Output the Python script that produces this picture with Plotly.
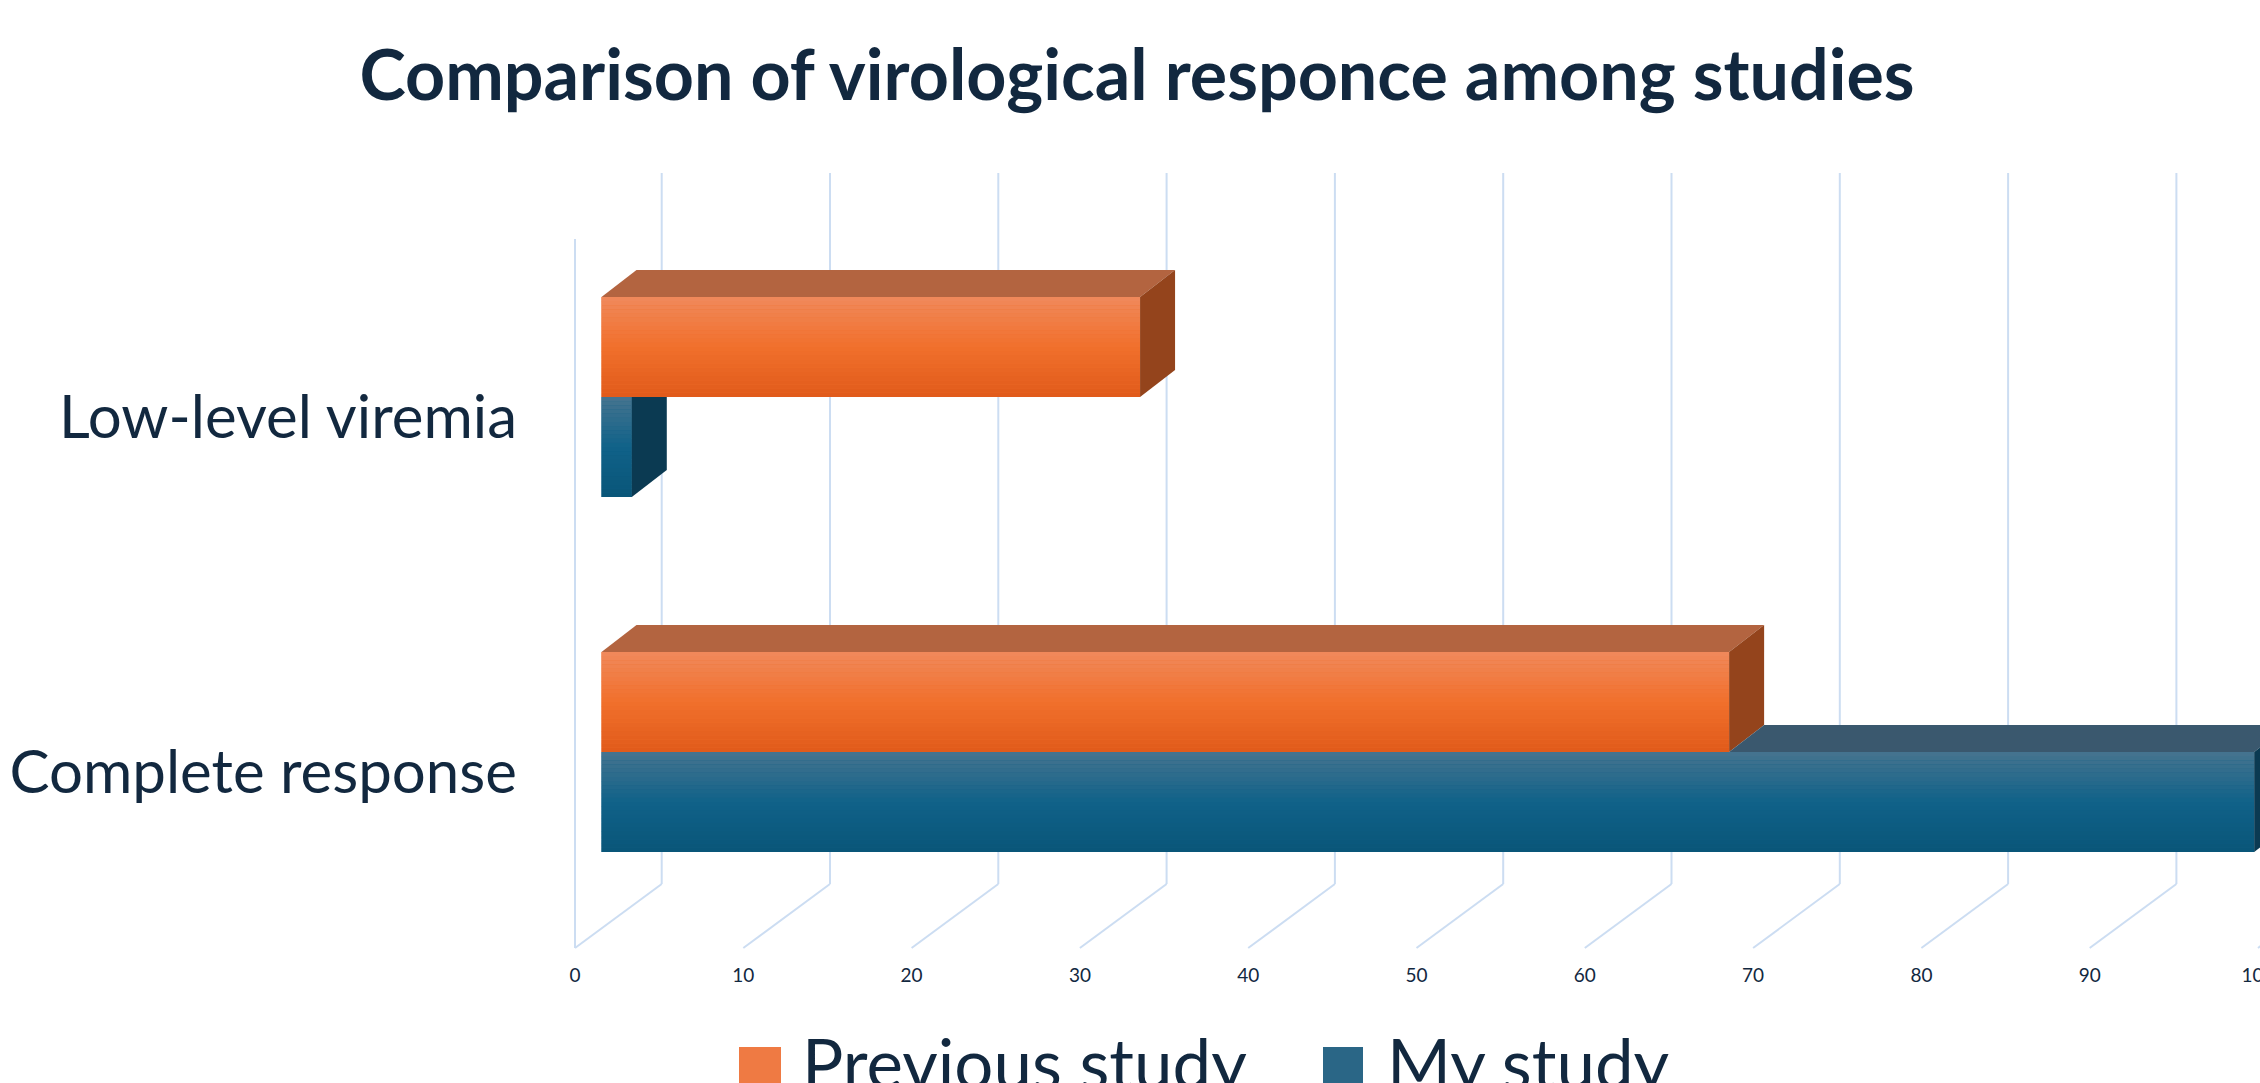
import plotly.graph_objects as go

# ---------------- data ----------------
categories = ["Complete response", "Low-level viremia"]
series_names = ["Previous study", "My study"]
previous_study = [67.0, 32.0]
my_study = [98.2, 1.8]
x_ticks = [0, 10, 20, 30, 40, 50, 60, 70, 80, 90, 100]
title_text = "Comparison of virological responce among studies"

# ---------------- styling / geometry ----------------
W, H = 2260, 1083
FONT = "Lato"
NAVY = "#12283F"
GRID = "#CCDDF2"

PX_PER_UNIT = 16.83          # px per x unit
BAR_ZERO_PX = 601.5          # x pixel of value 0 on the bar plane
FRONT_ZERO_PX = 575          # x pixel of value 0 on the front (floor edge) plane
BACK_ZERO_PX = 661.7         # x pixel of value 0 on the back wall
CAT_PX = 355                 # px between categories
CAT0_Y_PX = 752              # y pixel (from top) of the first category on the bar plane
BAR_PX = 100                 # thickness of one bar in px
DEPTH_DX_PX, DEPTH_DY_PX = 35, 27   # bar depth vector (right, up)

BACK_TOP_PX, BACK_BOT_PX = 173, 884
FRONT_TOP_PX, FRONT_BOT_PX = 239, 948

ORANGE_FRONT = "#EF6E2C"
ORANGE_GRAD = [(0.0, "#E05A1A"), (0.5, "#F1702C"), (1.0, "#F0895C")]   # bottom -> top
ORANGE_TOP = "#B36440"
ORANGE_SIDE = "#94441C"
BLUE_FRONT = "#135F85"
BLUE_GRAD = [(0.0, "#095578"), (0.5, "#106289"), (1.0, "#46748F")]
BLUE_TOP = "#3A586E"
BLUE_SIDE = "#0B3A52"
N_BANDS = 24

x_range = [-BAR_ZERO_PX / PX_PER_UNIT, (W - BAR_ZERO_PX) / PX_PER_UNIT]
x_front_range = [-FRONT_ZERO_PX / PX_PER_UNIT, (W - FRONT_ZERO_PX) / PX_PER_UNIT]
y0 = -(H - CAT0_Y_PX) / CAT_PX
y_range = [y0, y0 + H / CAT_PX]

bw = BAR_PX / CAT_PX
DX = DEPTH_DX_PX / PX_PER_UNIT
DY = DEPTH_DY_PX / CAT_PX
back_off = (BACK_ZERO_PX - BAR_ZERO_PX) / PX_PER_UNIT
front_off = (FRONT_ZERO_PX - BAR_ZERO_PX) / PX_PER_UNIT


def py(px_from_top):
    return (H - px_from_top) / H


def hex2rgb(h):
    h = h.lstrip("#")
    return tuple(int(h[i:i + 2], 16) for i in (0, 2, 4))


def grad_color(stops, t):
    for (t0, c0), (t1, c1) in zip(stops[:-1], stops[1:]):
        if t0 <= t <= t1:
            f = (t - t0) / (t1 - t0)
            a, b = hex2rgb(c0), hex2rgb(c1)
            return "rgb(%d,%d,%d)" % tuple(round(a[k] + (b[k] - a[k]) * f) for k in range(3))
    return stops[-1][1]


ypos = list(range(len(categories)))

fig = go.Figure()
fig.add_trace(go.Bar(
    name=series_names[1], y=ypos, x=my_study, orientation="h",
    marker=dict(color=BLUE_FRONT, line=dict(width=0)), showlegend=False,
    hovertemplate="%{x}<extra>" + series_names[1] + "</extra>",
))
fig.add_trace(go.Bar(
    name=series_names[0], y=ypos, x=previous_study, orientation="h",
    marker=dict(color=ORANGE_FRONT, line=dict(width=0)), showlegend=False,
    hovertemplate="%{x}<extra>" + series_names[0] + "</extra>",
))
# carrier trace for the front-plane tick axis
fig.add_trace(go.Scatter(x=[None], y=[None], xaxis="x2", yaxis="y",
                         showlegend=False, hoverinfo="skip"))

shapes = []


def poly(points, color):
    path = "M " + " L ".join(f"{x},{y}" for x, y in points) + " Z"
    return dict(type="path", path=path, xref="x", yref="y", fillcolor=color,
                line=dict(width=0), layer="above")


def shade_front(value, bottom, stops):
    """vertical gradient shading laid over a bar's front face"""
    step = bw / N_BANDS
    for k in range(N_BANDS):
        yb = bottom + k * step
        yt = yb + step * 1.02 if k < N_BANDS - 1 else yb + step
        shapes.append(dict(type="rect", xref="x", yref="y", x0=0, x1=value,
                           y0=yb, y1=yt, fillcolor=grad_color(stops, (k + 0.5) / N_BANDS),
                           line=dict(width=0), layer="above"))


for i, (vo, vb) in enumerate(zip(previous_study, my_study)):
    top_o, bot_o = i + bw, i
    top_b, bot_b = i, i - bw
    shade_front(vo, bot_o, ORANGE_GRAD)
    shade_front(vb, bot_b, BLUE_GRAD)
    # orange (upper bar): top + side
    shapes.append(poly([(0, top_o), (vo, top_o), (vo + DX, top_o + DY), (DX, top_o + DY)], ORANGE_TOP))
    shapes.append(poly([(vo, bot_o), (vo + DX, bot_o + DY), (vo + DX, top_o + DY), (vo, top_o)], ORANGE_SIDE))
    # blue (lower bar): only the parts not hidden by the orange bar
    if vb > vo:
        shapes.append(poly([(vo, top_b), (vb, top_b), (vb + DX, top_b + DY), (vo + DX, top_b + DY)], BLUE_TOP))
        shapes.append(poly([(vb, bot_b), (vb + DX, bot_b + DY), (vb + DX, top_b + DY), (vb, top_b)], BLUE_SIDE))
    else:
        shapes.append(poly([(vb, bot_b), (vb + DX, bot_b + DY), (vb + DX, top_b), (vb, top_b)], BLUE_SIDE))

# 3-D walls / floor grid
for v in x_ticks:
    shapes.append(dict(type="line", xref="x", yref="paper", layer="below",
                       x0=v + back_off, x1=v + back_off,
                       y0=py(BACK_BOT_PX), y1=py(BACK_TOP_PX),
                       line=dict(color=GRID, width=2)))
    shapes.append(dict(type="line", xref="x", yref="paper", layer="below",
                       x0=v + front_off, x1=v + back_off,
                       y0=py(FRONT_BOT_PX), y1=py(BACK_BOT_PX),
                       line=dict(color=GRID, width=2)))
shapes.append(dict(type="line", xref="x", yref="paper", layer="below",
                   x0=x_ticks[0] + front_off, x1=x_ticks[0] + front_off,
                   y0=py(FRONT_BOT_PX), y1=py(FRONT_TOP_PX),
                   line=dict(color=GRID, width=2)))

# legend (large swatches as drawn in the original)
legend_items = [
    (series_names[0], "#EF7A43", 739, 781, 800),
    (series_names[1], "#2A6686", 1323, 1363, 1385),
]
annotations = []
for name, col, sx0, sx1, tx in legend_items:
    shapes.append(dict(type="rect", xref="paper", yref="paper",
                       x0=sx0 / W, x1=sx1 / W, y0=py(1120), y1=py(1047),
                       fillcolor=col, line=dict(width=0), layer="above"))
    annotations.append(dict(text=name, xref="paper", yref="paper",
                            x=tx / W, y=py(1019), xanchor="left", yanchor="top",
                            showarrow=False,
                            font=dict(family=FONT, size=69, color=NAVY)))

fig.update_layout(
    width=W, height=H, autosize=False,
    margin=dict(l=0, r=0, t=0, b=0, pad=0, autoexpand=False),
    paper_bgcolor="white", plot_bgcolor="white",
    barmode="group", bargap=1 - 2 * bw, bargroupgap=0,
    showlegend=False,
    title=dict(text=title_text, x=1137 / W, xanchor="center", y=py(75), yanchor="middle",
               font=dict(family=FONT, size=70, color=NAVY, weight=700)),
    xaxis=dict(range=x_range, domain=[0, 1], showgrid=False, zeroline=False,
               showticklabels=False, showline=False, fixedrange=True, automargin=False),
    xaxis2=dict(range=x_front_range, overlaying="x", anchor="free", position=py(962),
                side="bottom", tickvals=x_ticks, showgrid=False, zeroline=False,
                showline=False, ticks="", ticklabeloverflow="allow", automargin=False,
                tickfont=dict(family=FONT, size=19, color=NAVY)),
    yaxis=dict(range=y_range, domain=[0, 1], anchor="free", position=FRONT_ZERO_PX / W,
               tickvals=ypos, ticktext=categories, showgrid=False, zeroline=False,
               showline=False, ticks="", ticklabelstandoff=58, ticklabelshift=20,
               automargin=False,
               tickfont=dict(family=FONT, size=60, color=NAVY)),
    shapes=shapes,
    annotations=annotations,
    font=dict(family=FONT, color=NAVY),
)

fig.write_html(
    "out.html", config={"displayModeBar": False},
    post_script=(
        "document.body.style.margin='0';"
        "document.body.style.overflow='hidden';"
        "document.documentElement.style.overflow='hidden';"
    ),
)
